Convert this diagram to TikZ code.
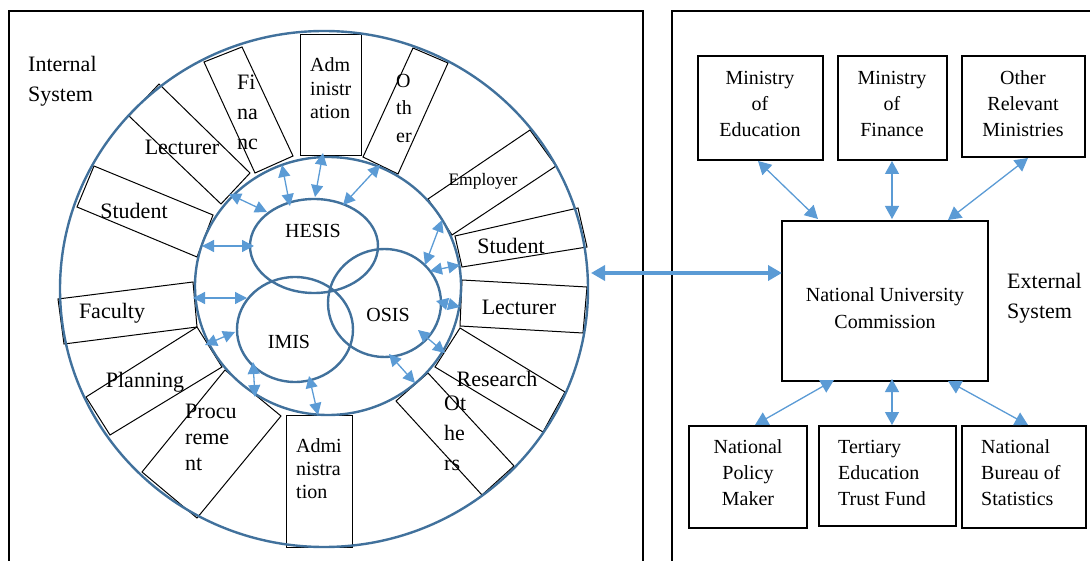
\documentclass[tikz,border=0pt]{standalone}
\usepackage{fontspec}
\setmainfont{Liberation Serif}
\usetikzlibrary{arrows.meta,shapes.geometric}
\definecolor{ringc}{HTML}{41719C}
\definecolor{arrc}{HTML}{5B9BD5}
\begin{document}
\begin{tikzpicture}[x=1pt,y=-1pt,
  ringline/.style={draw=ringc,line width=2.4pt},
  ell/.style={ellipse,draw=ringc,line width=2.4pt,inner sep=0pt},
  sbox/.style={draw=black,line width=1pt},
  rbox/.style={draw=black,line width=1.2pt,inner sep=0pt},
  frm/.style={draw=black,line width=1.2pt},
  darr/.style={draw=arrc,line width=1.3pt,{Triangle[length=12pt,width=12pt]}-{Triangle[length=12pt,width=12pt]}},
  rarr/.style={draw=arrc,line width=1.3pt,{Triangle[length=13pt,width=14pt]}-{Triangle[length=13pt,width=14pt]}},
  bigarr/.style={draw=arrc,line width=4.5pt,{Triangle[length=14pt,width=15pt]}-{Triangle[length=14pt,width=15pt]}},
  tA/.style={inner sep=0pt,font=\fontsize{22}{30}\selectfont,align=left},
  tB/.style={inner sep=0pt,font=\fontsize{20}{26}\selectfont,align=center},
  tS/.style={inner sep=0pt,font=\fontsize{17.5}{20}\selectfont}
]
\useasboundingbox (0,0) rectangle (1090,561);

% frames
\draw[frm] (9,561) -- (9,11) -- (643,11) -- (643,561);
\draw[frm] (672,561) -- (672,11) -- (1090,11);

% ring boxes
\draw[sbox] (300,35) rectangle (361,156);                          % administration top
\draw[sbox] (413,48) -- (448,63) -- (398,174) -- (363,157) -- cycle; % other
\draw[sbox] (428,199) -- (530,130) -- (556,166) -- (452,235) -- cycle; % employer
\draw[sbox] (455,236) -- (578,208) -- (587,247) -- (462,267) -- cycle; % student right
\draw[sbox] (462,280) -- (587,287) -- (583,333) -- (460,326) -- cycle; % lecturer right
\draw[sbox] (460,328) -- (565,392) -- (543,432) -- (435,367) -- cycle; % research
\draw[sbox] (428,373) -- (514,466) -- (482,495) -- (396,401) -- cycle; % others
\draw[sbox] (286,415) rectangle (352,547);                         % administration bottom
\draw[sbox] (225,370) -- (281,416) -- (197,518) -- (142,472) -- cycle; % procurement
\draw[sbox] (197,327) -- (222,367) -- (110,435) -- (86,397) -- cycle;  % planning
\draw[sbox] (58,299) -- (193,282) -- (197,327) -- (64,344) -- cycle;   % faculty
\draw[sbox] (94,166) -- (213,215) -- (197,257) -- (77,207) -- cycle;   % student left
\draw[sbox] (129,116) -- (221,204) -- (250,173) -- (159,84) -- cycle;  % lecturer left
\draw[sbox] (204,62) -- (242,47) -- (293,156) -- (255,173) -- cycle;   % finance

% circles
\node[ell,minimum width=528pt,minimum height=516pt] (outer) at (324,289) {};
\node[ell,minimum width=266pt,minimum height=258pt] (inner) at (328,286) {};
\node[ell,minimum width=128pt,minimum height=94pt] (hesis) at (314,246) {};
\node[ell,minimum width=116pt,minimum height=105pt] (imis) at (295,329.5) {};
\node[ell,minimum width=113pt,minimum height=108pt] (osis) at (384.5,303) {};
\node[tB] (hesisT) at (313,231) {HESIS};
\node[tB] (imisT) at (289,342) {IMIS};
\node[tB] (osisT) at (388,315) {OSIS};

% ring texts
\node[tB,anchor=west,align=left,font=\fontsize{20}{23.5}\selectfont] (tadm1) at (310,88.5) {Adm\\inistr\\ation};
\node[tB,anchor=west,align=left,font=\fontsize{20}{27.5}\selectfont] (toth) at (396,108) {O\\th\\er};
\node[tA,anchor=west] (tfin) at (237,112) {Fi\\na\\nc};
\node[tA] (tlecl) at (182,147) {Lecturer};
\node[tA] (tstul) at (134,211) {Student};
\node[tA] (tfac) at (112,313) {Faculty};
\node[tA] (tpla) at (145,382) {Planning};
\node[tA,anchor=west,font=\fontsize{22}{26}\selectfont] (tpro) at (185,437) {Procu\\reme\\nt};
\node[tB,anchor=west,align=left,font=\fontsize{20}{23}\selectfont] (tadm2) at (296,469) {Admi\\nistra\\tion};
\node[tA,anchor=west] (toths) at (444,433) {Ot\\he\\rs};
\node[tA] (tres) at (497,379) {Research};
\node[tA] (tlecr) at (519,307) {Lecturer};
\node[tA] (tstur) at (511,246) {Student};
\node[tS] (temp) at (483,181) {Employer};

% internal arrows
\coordinate (a1) at (229,194);  \coordinate (b1) at (267,212);
\coordinate (a2) at (282,165);  \coordinate (b2) at (290,206);
\coordinate (a3) at (323,153);  \coordinate (b3) at (315,197);
\coordinate (a4) at (380,165);  \coordinate (b4) at (343,205);
\coordinate (a5) at (442,220);  \coordinate (b5) at (425,265);
\coordinate (a6) at (430,271);  \coordinate (b6) at (460,265);
\coordinate (a7) at (436,301);  \coordinate (b7) at (460,307);
\coordinate (a8) at (418,330);  \coordinate (b8) at (445,353);
\coordinate (a9) at (389,354);  \coordinate (b9) at (415,383);
\coordinate (a10) at (309,376); \coordinate (b10) at (318,415);
\coordinate (a11) at (253,362); \coordinate (b11) at (255,397);
\coordinate (a12) at (205,345); \coordinate (b12) at (235,332);
\coordinate (a13) at (193,298); \coordinate (b13) at (247,298);
\coordinate (a14) at (202,246); \coordinate (b14) at (254,246);
\foreach \i in {1,...,14} {\draw[darr] (a\i) -- (b\i);}

% external system
\node[rbox,minimum width=125pt,minimum height=104pt] (moe) at (760.5,108) {};
\node[rbox,minimum width=109pt,minimum height=104pt] (mof) at (892.5,108) {};
\node[rbox,minimum width=123pt,minimum height=101pt] (orm) at (1023.5,106.5) {};
\node[rbox,minimum width=206pt,minimum height=160pt] (nuc) at (885,301) {};
\node[rbox,minimum width=118pt,minimum height=102pt] (npm) at (748,477) {};
\node[rbox,minimum width=137pt,minimum height=100pt] (tetf) at (887.5,476) {};
\node[rbox,minimum width=124pt,minimum height=102pt] (nbs) at (1024,477) {};

\node[tB] (moeT) at (760,104) {Ministry\\of\\Education};
\node[tB] (mofT) at (892,104) {Ministry\\of\\Finance};
\node[tB] (ormT) at (1023,104) {Other\\Relevant\\Ministries};
\node[tB,font=\fontsize{20}{27}\selectfont] (nucT) at (885,308) {National University\\Commission};
\node[tB] (npmT) at (748,473) {National\\Policy\\Maker};
\node[tB,anchor=west,align=left] (tetfT) at (838,473) {Tertiary\\Education\\Trust Fund};
\node[tB,anchor=west,align=left] (nbsT) at (981,473) {National\\Bureau of\\Statistics};
\node[tA,anchor=west] (extT) at (1007,298) {External\\System};
\node[tA,anchor=west] (intT) at (28,81) {Internal\\System};

\coordinate (m1) at (758,161);  \coordinate (n1) at (818,219);
\coordinate (m2) at (892,161);  \coordinate (n2) at (892,219);
\coordinate (m3) at (1028,158); \coordinate (n3) at (948,220);
\coordinate (m4) at (834,380);  \coordinate (n4) at (755,425);
\coordinate (m5) at (892,379);  \coordinate (n5) at (892,425);
\coordinate (m6) at (948,381);  \coordinate (n6) at (1028,425);
\foreach \i in {1,...,6} {\draw[rarr] (m\i) -- (n\i);}

\coordinate (bigL) at (591,273);
\coordinate (bigR) at (782,273);
\draw[bigarr] (bigL) -- (bigR);
\end{tikzpicture}
\end{document}
